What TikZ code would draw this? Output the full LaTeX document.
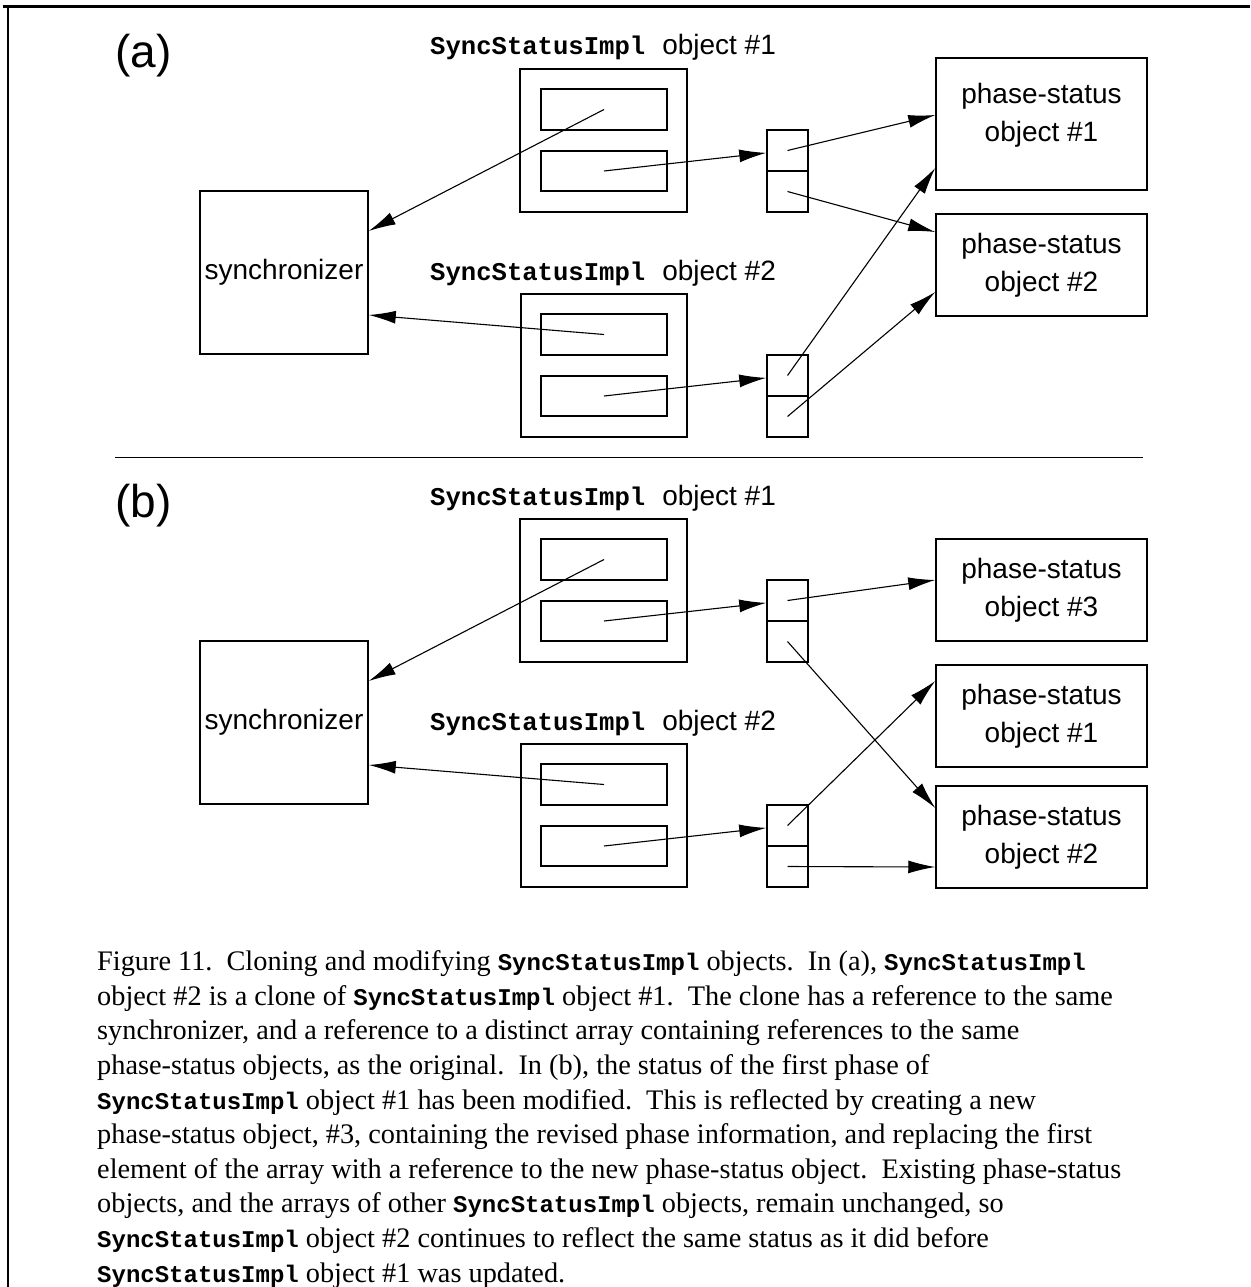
\documentclass[tikz,border=0pt]{standalone}
\usepackage{fontspec}
\setmainfont{Liberation Serif}
\setsansfont{Liberation Sans}
\setmonofont{Liberation Mono}
\usetikzlibrary{arrows.meta,fit}

\newcommand\codeword[1]{{\ttfamily\bfseries #1}}
\newcommand\capword[1]{{\ttfamily\bfseries\fontsize{24}{28}\selectfont #1}}

\begin{document}
\begin{tikzpicture}[x=1pt,y=-1pt,
  box/.style={draw, line width=1.5pt, inner sep=0pt},
  ref/.style={line width=1.1pt, -{Latex[length=27pt,width=13pt]}},
  sans/.style={font=\sffamily\fontsize{28}{38}\selectfont},
  panel/.style={font=\sffamily\fontsize{46}{50}\selectfont},
  objlabel/.style={anchor=base west, inner sep=0pt},
  rule/.style={line width=1.3pt}]
\useasboundingbox (0,0) rectangle (1250,1287);

% frame of the figure
\draw[line width=3pt] (3,7) -- (1250,7);
\draw[line width=2pt] (8,7) -- (8,1287);

% parts shared by both panels
\foreach \p/\dy in {a/0,b/450}{
  \node[panel] (\p-tag) at (143.5,56+\dy) {(\p)};
  \node[objlabel] (\p-l1) at (430,55+\dy)
    {\fontsize{25.6}{30}\selectfont\codeword{SyncStatusImpl}\hspace{17pt}\sffamily\fontsize{28}{34}\selectfont object \#1};
  \node[objlabel] (\p-l2) at (430,280+\dy)
    {\fontsize{25.6}{30}\selectfont\codeword{SyncStatusImpl}\hspace{17pt}\sffamily\fontsize{28}{34}\selectfont object \#2};
  % SyncStatusImpl object #1
  \node[box, fit={(520,69+\dy) (687,212+\dy)}] (\p-o1) {};
  \node[box, fit={(541,89+\dy) (667,130+\dy)}] (\p-o1s) {};
  \node[box, fit={(541,151+\dy) (667,191+\dy)}] (\p-o1a) {};
  % SyncStatusImpl object #2
  \node[box, fit={(521,294+\dy) (687,437+\dy)}] (\p-o2) {};
  \node[box, fit={(541,314+\dy) (667,355+\dy)}] (\p-o2s) {};
  \node[box, fit={(541,376+\dy) (667,416+\dy)}] (\p-o2a) {};
  % arrays of phase-status references
  \node[box, fit={(767,130+\dy) (808,171+\dy)}] (\p-a1c1) {};
  \node[box, fit={(767,171+\dy) (808,212+\dy)}] (\p-a1c2) {};
  \node[box, fit={(767,355+\dy) (808,396+\dy)}] (\p-a2c1) {};
  \node[box, fit={(767,396+\dy) (808,437+\dy)}] (\p-a2c2) {};
  % synchronizer
  \node[box, fit={(200,191+\dy) (368,354+\dy)}] (\p-sync) {};
  \node[sans] (\p-synct) at (\p-sync.center) {synchronizer};
  % references held by the objects
  \draw[ref] (\p-o1s.center) -- (\p-sync.east |- 0,231+\dy);
  \draw[ref] (\p-o2s.center) -- (\p-sync.east |- 0,315+\dy);
  \draw[ref] (\p-o1a.center) -- (\p-a1c1);
  \draw[ref] (\p-o2a.center) -- (\p-a2c1);
}

% panel (a): phase-status objects
\node[box, fit={(936,58) (1147,190)}] (a-ps1) {};
\node[sans, align=center] (a-ps1t) at (1041.5,115) {phase-status\\object \#1};
\node[box, fit={(936,214) (1147,316)}] (a-ps2) {};
\node[sans, align=center] (a-ps2t) at (a-ps2.center) {phase-status\\object \#2};
\draw[ref] (a-a1c1.center) -- (a-ps1.west |- 0,115);
\draw[ref] (a-a1c2.center) -- (a-ps2.west |- 0,232);
\draw[ref] (a-a2c1.center) -- (a-ps1.west |- 0,168);
\draw[ref] (a-a2c2.center) -- (a-ps2.west |- 0,292);

% separator between the panels
\draw[rule] (115,457.5) -- (1143,457.5);

% panel (b): phase-status objects
\node[box, fit={(936,539) (1147,641)}] (b-ps3) {};
\node[sans, align=center] (b-ps3t) at (b-ps3.center) {phase-status\\object \#3};
\node[box, fit={(936,665) (1147,767)}] (b-ps1) {};
\node[sans, align=center] (b-ps1t) at (b-ps1.center) {phase-status\\object \#1};
\node[box, fit={(936,786) (1147,888)}] (b-ps2) {};
\node[sans, align=center] (b-ps2t) at (b-ps2.center) {phase-status\\object \#2};
\draw[ref] (b-a1c1.center) -- (b-ps3.west |- 0,580);
\draw[ref] (b-a1c2.center) -- (b-ps2.west |- 0,808);
\draw[ref] (b-a2c1.center) -- (b-ps1.west |- 0,681);
\draw[ref] (b-a2c2.center) -- (b-ps2.west |- 0,867);

% caption (anchored at the baseline of its last line)
\node[anchor=base west, inner sep=0pt, align=left,
      font=\fontsize{28.3}{34.6}\selectfont] (caption) at (97,1282) {%
Figure 11.\ \ Cloning and modifying \capword{SyncStatusImpl} objects.\ \ In (a), \capword{SyncStatusImpl}\\
object \#2 is a clone of \capword{SyncStatusImpl} object \#1.\ \ The clone has a reference to the same\\
synchronizer, and a reference to a distinct array containing references to the same\\
phase-status objects, as the original.\ \ In (b), the status of the first phase of\\
\capword{SyncStatusImpl} object \#1 has been modified.\ \ This is reflected by creating a new\\
phase-status object, \#3, containing the revised phase information, and replacing the first\\
element of the array with a reference to the new phase-status object.\ \ Existing phase-status\\
objects, and the arrays of other \capword{SyncStatusImpl} objects, remain unchanged, so\\
\capword{SyncStatusImpl} object \#2 continues to reflect the same status as it did before\\
\capword{SyncStatusImpl} object \#1 was updated.};
\end{tikzpicture}
\end{document}
